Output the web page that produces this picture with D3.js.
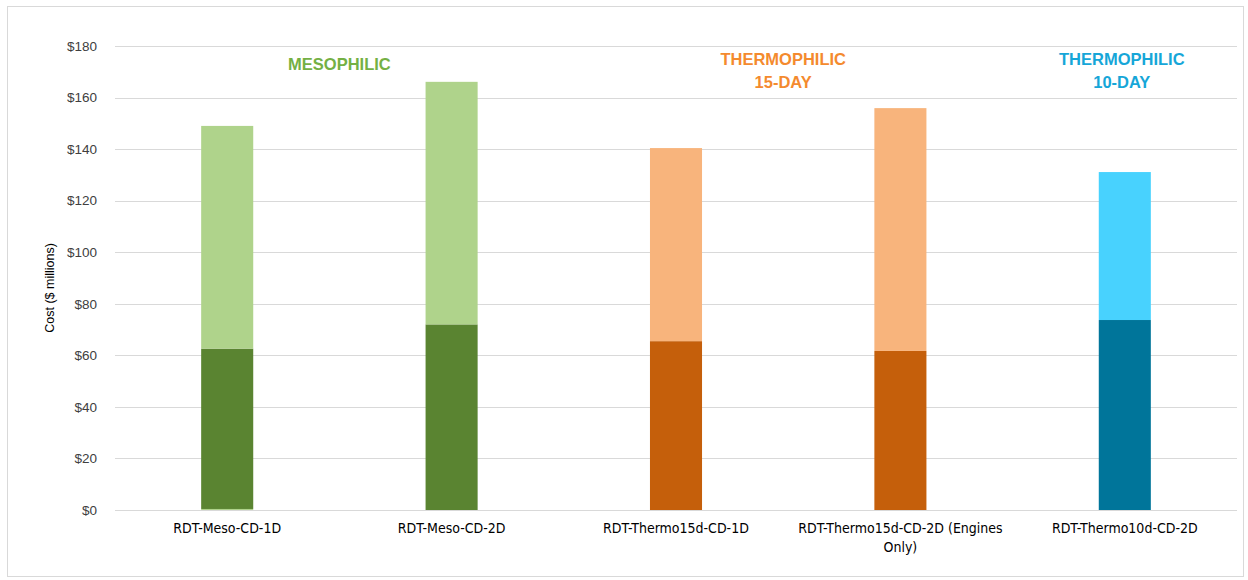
<!DOCTYPE html>
<html>
<head>
<meta charset="utf-8">
<script src="https://cdn.jsdelivr.net/npm/d3@7"></script>
<style>
  html, body { margin: 0; padding: 0; background: #ffffff; }
  svg { display: block; }
</style>
</head>
<body>
<svg id="chart" width="1248" height="580"></svg>
<script>
// Scenario names shown along the x axis
const categories = [
  "RDT-Meso-CD-1D",
  "RDT-Meso-CD-2D",
  "RDT-Thermo15d-CD-1D",
  "RDT-Thermo15d-CD-2D (Engines Only)",
  "RDT-Thermo10d-CD-2D"
];
// Stacked cost components ($ millions)
const baseSliver = [0.4, 0, 0, 0, 0];
const lowerCost = [62.2, 72.0, 65.5, 61.7, 73.7];
const upperCost = [86.4, 94.1, 74.9, 94.2, 57.4];
// Process group of each bar
const groups = ["meso", "meso", "thermo15", "thermo15", "thermo10"];
// Axis ticks
const yTicks = [0, 20, 40, 60, 80, 100, 120, 140, 160, 180];
// Group headings placed above the bars
const headings = [
  { lines: ["MESOPHILIC"], from: 0, to: 1, group: "meso" },
  { lines: ["THERMOPHILIC", "15-DAY"], from: 2, to: 3, group: "thermo15" },
  { lines: ["THERMOPHILIC", "10-DAY"], from: 4, to: 4, group: "thermo10" }
];

const palette = {
  meso:     { dark: "#5a8431", light: "#afd38b", title: "#74b044" },
  thermo15: { dark: "#c55f0b", light: "#f8b47c", title: "#f48a2e" },
  thermo10: { dark: "#00759a", light: "#48d2fe", title: "#16a6d8" }
};
// Small horizontal nudges for the heading text
const headingShift = { meso: 0, thermo15: -5, thermo10: -3 };

const svg = d3.select("#chart");
const W = 1248, H = 580;

// Outer chart frame
svg.append("rect")
  .attr("x", 7.5).attr("y", 6.5)
  .attr("width", W - 12).attr("height", H - 10)
  .attr("fill", "#ffffff").attr("stroke", "#d9d9d9").attr("stroke-width", 1);

const plotLeft = 115, plotRight = 1237, plotTop = 46, plotBottom = 510;

const x = d3.scaleBand().domain(categories).range([plotLeft, plotRight]).paddingInner(0.768).paddingOuter(0.384);
const y = d3.scaleLinear().domain([0, 180]).range([plotBottom, plotTop]);

// Horizontal gridlines
svg.append("g")
  .selectAll("line")
  .data(yTicks)
  .join("line")
  .attr("x1", plotLeft).attr("x2", plotRight)
  .attr("y1", d => Math.round(y(d)) + 0.5).attr("y2", d => Math.round(y(d)) + 0.5)
  .attr("stroke", "#d9d9d9").attr("stroke-width", 1);

// Y axis labels
const yAxis = d3.axisLeft(y).tickValues(yTicks).tickFormat(d => "$" + d).tickSize(0).tickPadding(0);
const yg = svg.append("g").attr("transform", `translate(${plotLeft - 18},0)`).call(yAxis);
yg.select(".domain").remove();
yg.selectAll("text")
  .attr("font-family", "Arial, 'Liberation Sans', sans-serif")
  .attr("font-size", 13.5).attr("fill", "#404040");

// Y axis title
svg.append("text")
  .attr("transform", `translate(54,${(plotTop + plotBottom) / 2 + 10}) rotate(-90)`)
  .attr("text-anchor", "middle")
  .attr("font-family", "Arial, 'Liberation Sans', sans-serif")
  .attr("font-size", 12.5).attr("fill", "#000000")
  .text("Cost ($ millions)");

// Stack the three components
const rows = categories.map((c, i) => ({
  cat: c, group: groups[i], base: baseSliver[i], lower: lowerCost[i], upper: upperCost[i]
}));
const stack = d3.stack().keys(["base", "lower", "upper"]);
const series = stack(rows);
const shade = { base: "light", lower: "dark", upper: "light" };

svg.append("g")
  .selectAll("g")
  .data(series)
  .join("g")
  .selectAll("rect")
  .data(s => s.map(d => ({ key: s.key, d })))
  .join("rect")
  .attr("x", v => x(v.d.data.cat))
  .attr("width", x.bandwidth())
  .attr("y", v => y(v.d[1]))
  .attr("height", v => Math.max(0, y(v.d[0]) - y(v.d[1])))
  .attr("fill", v => palette[v.d.data.group][shade[v.key]]);

// Category labels, wrapped to the band step
const xg = svg.append("g").attr("transform", `translate(0,${plotBottom})`)
  .call(d3.axisBottom(x).tickSize(0).tickPadding(0));
xg.select(".domain").remove();
xg.selectAll("text").remove();
xg.selectAll(".tick").each(function(d) {
  const t = d3.select(this).append("text")
    .attr("text-anchor", "middle")
    .attr("font-family", "'Liberation Sans Narrow', 'Arial Narrow', 'DejaVu Sans Condensed', sans-serif")
    .attr("font-size", 14).attr("fill", "#000000")
    .attr("y", 23);
  const words = d.split(" ");
  const maxW = x.step() * 0.98;
  let line = [];
  let tspan = t.append("tspan").attr("x", 0).attr("dy", 0);
  words.forEach(w => {
    line.push(w);
    tspan.text(line.join(" "));
    if (tspan.node().getComputedTextLength() > maxW && line.length > 1) {
      line.pop();
      tspan.text(line.join(" "));
      line = [w];
      tspan = t.append("tspan").attr("x", 0).attr("dy", 19).text(w);
    }
  });
});

// Group headings
headings.forEach(h => {
  const cx = (x(categories[h.from]) + x(categories[h.to]) + x.bandwidth()) / 2 + headingShift[h.group];
  const t = svg.append("text")
    .attr("text-anchor", "middle")
    .attr("font-family", "Arial, 'Liberation Sans', sans-serif")
    .attr("font-weight", "bold")
    .attr("font-size", 16.5)
    .attr("fill", palette[h.group].title);
  h.lines.forEach((ln, i) => {
    t.append("tspan").attr("x", cx).attr("y", (h.lines.length === 1 ? 70 : 65) + i * 23).text(ln);
  });
});
</script>
</body>
</html>
